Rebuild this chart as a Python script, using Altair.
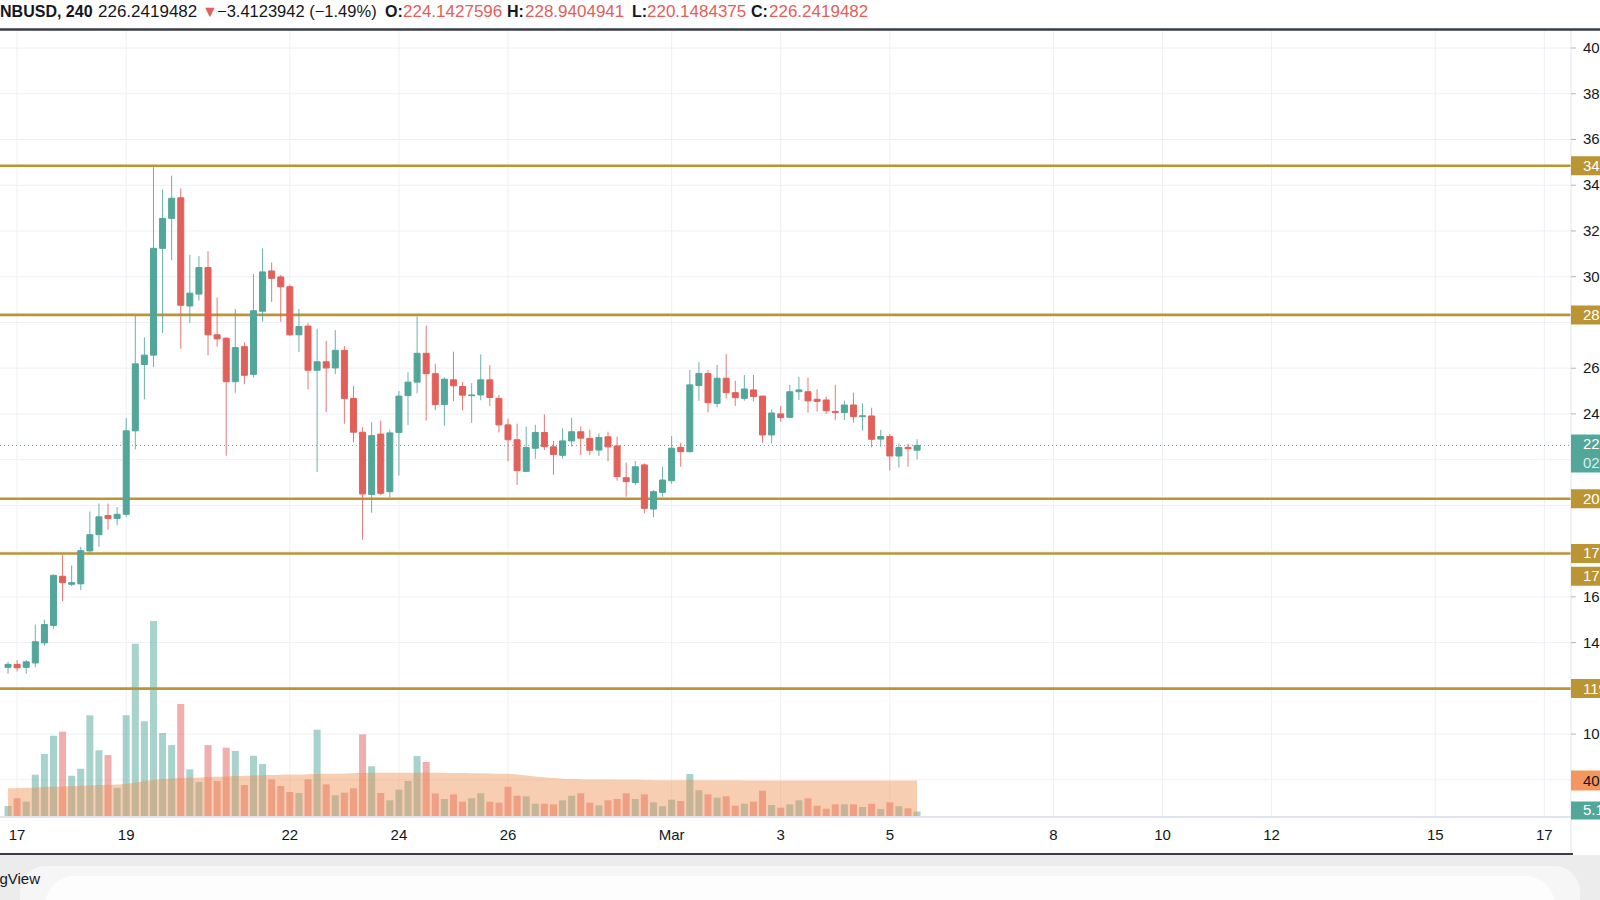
import altair as alt
import pandas as pd

# ---------------- data ----------------
first_bar = "2021-02-16 20:00"   # 4h candles, BNBUSD
opens = [129.2, 130.5, 129.2, 131.1, 139.9, 147.5, 169.0, 165.5, 165.7, 180.1,
         187.2, 195.6, 194.3, 196.1, 232.6, 261.6, 265.7, 312.4, 325.5, 334.5,
         287.2, 292.4, 304.0, 274.6, 273.1, 254.1, 269.4, 257.3, 284.9, 302.5,
         299.9, 295.6, 274.6, 278.4, 259.1, 262.8, 260.1, 267.8, 246.8, 232.0,
         204.8, 231.2, 206.0, 231.9, 248.0, 253.9, 266.5, 257.6, 244.1, 254.9,
         252.0, 248.0, 248.3, 254.9, 246.8, 235.2, 228.7, 214.9, 225.0, 231.9,
         225.6, 221.9, 228.2, 232.2, 229.3, 224.2, 230.0, 226.0, 212.1, 210.0,
         217.7, 198.4, 205.7, 210.8, 225.4, 223.5, 252.4, 257.7, 244.6, 255.6,
         249.3, 246.8, 250.5, 247.8, 230.8, 240.0, 238.5, 249.7, 249.7, 246.4,
         246.1, 241.1, 240.6, 243.9, 238.8, 239.1, 229.0, 230.1, 221.6, 225.4,
         224.1427596]
highs = [131.6, 132.4, 132.4, 147.9, 150.1, 169.8, 178.2, 173.7, 181.9, 197.3,
         200.8, 200.8, 199.3, 238.2, 282.9, 273.5, 347.9, 338.2, 344.2, 338.6,
         309.6, 309.0, 311.1, 290.9, 273.5, 285.9, 271.3, 301.2, 312.4, 306.2,
         300.8, 296.5, 285.9, 279.7, 277.2, 272.0, 276.7, 269.7, 252.3, 234.2,
         236.4, 237.1, 233.1, 250.0, 258.2, 282.6, 278.6, 261.9, 255.9, 267.2,
         253.9, 253.4, 266.0, 261.3, 248.3, 237.9, 235.7, 234.5, 235.2, 239.8,
         228.2, 233.7, 238.3, 234.5, 233.1, 231.5, 232.2, 230.1, 218.7, 219.4,
         218.4, 206.7, 216.9, 230.4, 227.4, 259.2, 262.6, 259.2, 261.4, 266.1,
         254.5, 257.0, 257.0, 247.8, 242.0, 243.5, 252.7, 256.3, 255.9, 250.8,
         247.6, 252.7, 245.8, 249.3, 244.6, 242.7, 233.0, 231.2, 227.1, 226.9,
         228.9404941]
lows = [126.4, 127.4, 126.4, 129.2, 138.6, 146.0, 158.2, 164.7, 162.9, 179.3,
        181.9, 189.4, 191.3, 195.0, 224.5, 246.4, 260.4, 275.4, 307.2, 268.5,
        279.7, 289.6, 265.7, 269.4, 221.7, 249.2, 253.0, 255.9, 280.3, 289.0,
        280.3, 274.1, 267.0, 250.7, 214.6, 240.8, 257.4, 235.7, 227.5, 185.0,
        196.8, 204.5, 203.5, 213.0, 235.2, 249.0, 237.1, 241.6, 234.9, 245.6,
        241.6, 236.1, 246.0, 243.4, 231.9, 219.3, 209.0, 214.6, 220.4, 224.2,
        213.4, 220.5, 225.7, 222.0, 222.0, 221.6, 219.3, 210.8, 203.8, 208.9,
        196.5, 194.8, 203.8, 209.4, 216.9, 223.1, 245.7, 240.7, 242.9, 246.8,
        243.5, 245.8, 245.4, 227.4, 227.1, 236.6, 238.1, 246.1, 240.6, 241.0,
        240.0, 237.3, 237.3, 236.2, 232.7, 225.4, 225.7, 215.2, 216.5, 216.9,
        220.1484375]
closes = [130.5, 129.0, 131.6, 140.4, 147.9, 169.4, 166.2, 166.2, 180.2, 187.2,
          195.0, 194.3, 196.1, 232.6, 261.9, 265.7, 312.4, 325.5, 334.3, 287.5,
          292.8, 304.0, 274.6, 272.8, 254.1, 269.0, 256.9, 285.1, 302.1, 299.3,
          295.6, 274.6, 278.2, 259.1, 262.8, 260.1, 267.8, 246.8, 232.0, 205.0,
          230.5, 205.3, 231.7, 247.8, 253.9, 266.5, 257.6, 244.1, 255.2, 252.3,
          248.2, 248.3, 254.9, 247.2, 235.2, 228.7, 215.2, 225.3, 231.9, 225.7,
          222.3, 228.2, 232.2, 229.4, 224.1, 229.7, 225.6, 212.6, 210.4, 216.9,
          198.7, 206.0, 211.1, 225.0, 223.5, 252.7, 257.7, 244.9, 255.6, 249.3,
          247.1, 250.9, 247.6, 230.8, 240.4, 238.4, 249.7, 250.5, 245.7, 245.5,
          241.4, 240.6, 243.9, 238.8, 239.2, 228.9, 230.1, 221.6, 225.3, 224.8,
          226.2419482]
volumes_k = [11.4, 20.2, 16.3, 47.1, 70.7, 91.5, 96.1, 45.9, 53.9, 114.8,
             74.9, 69.5, 31.9, 114.8, 196.4, 108.0, 222.3, 94.6, 80.9, 127.7,
             53.2, 38.8, 80.9, 39.9, 77.9, 74.1, 35.3, 68.7, 59.3, 41.8,
             34.2, 27.4, 26.2, 41.8, 98.4, 36.1, 23.6, 26.6, 31.6, 93.1,
             56.7, 26.2, 17.9, 30.0, 39.9, 68.4, 61.6, 25.7, 19.4, 24.7,
             16.3, 20.2, 25.9, 16.3, 15.2, 33.4, 23.1, 22.5, 14.0, 14.0,
             13.3, 17.9, 23.1, 25.9, 15.2, 12.2, 17.9, 19.4, 25.9, 19.4,
             24.7, 15.6, 11.1, 18.6, 17.1, 47.9, 29.3, 24.7, 20.9, 22.5,
             11.7, 14.0, 16.3, 28.8, 12.5, 9.5, 13.3, 17.9, 20.2, 11.7,
             8.3, 13.3, 13.3, 13.3, 10.3, 14.0, 8.0, 15.6, 11.1, 8.8,
             5.137]
vol_ma_k = [31.6, 31.9, 32.3, 32.6, 33.1, 33.4, 33.7, 34.2, 34.5, 34.9,
            35.3, 35.7, 36.0, 36.8, 38.2, 39.9, 41.0, 42.2, 42.9, 43.3,
            43.7, 44.0, 44.5, 44.8, 45.1, 45.5, 45.8, 46.2, 46.5, 46.7,
            47.0, 47.2, 47.4, 47.7, 47.9, 48.1, 48.3, 48.6, 48.8, 49.0,
            49.1, 49.2, 49.4, 49.4, 49.4, 49.4, 49.4, 49.2, 49.1, 49.0,
            48.9, 48.8, 48.7, 48.6, 48.3, 48.1, 47.3, 46.2, 45.1, 44.2,
            43.3, 42.6, 42.2, 42.0, 41.7, 41.6, 41.5, 41.4, 41.3, 41.2,
            41.0, 40.9, 40.9, 40.8, 40.8, 40.7, 40.7, 40.7, 40.7, 40.7,
            40.7, 40.6, 40.6, 40.6, 40.6, 40.6, 40.6, 40.6, 40.6, 40.5,
            40.5, 40.5, 40.5, 40.5, 40.5, 40.4, 40.4, 40.4, 40.4, 40.4,
            40.4]
levels = [348.5, 283.3, 202.9, 179.0, 119.9]
stacked_level = 178.6          # second label stacked under the 17x one
last_price = 226.2419482
countdown = "02:13:52"
tick_dates = ["2021-02-17", "2021-02-19", "2021-02-22", "2021-02-24", "2021-02-26",
              "2021-03-01", "2021-03-03", "2021-03-05", "2021-03-08", "2021-03-10",
              "2021-03-12", "2021-03-15", "2021-03-17"]
tick_labels = ["17", "19", "22", "24", "26", "Mar", "3", "5", "8", "10", "12", "15", "17"]
price_ticks = list(range(100, 401, 20))
grid_ticks = list(range(80, 401, 20))

# ---------------- layout constants ----------------
W, H = 1600, 900
PLOT_RIGHT = 1571
PLOT_TOP = 30
PLOT_BOTTOM = 816
X0_PX = 12.2                  # pixel of 17 Feb 00:00
PX_PER_HOUR = 54.886 / 24
P_REF, P_REF_PX, PX_PER_PRICE = 400.0, 48.0, 2.287
VOL_BASE_PX, PX_PER_K = 816.0, 0.877
UP, DOWN = "#52a69a", "#e2605a"
GOLD = "#bb9434"
INK = "#131722"
FONT = "Liberation Sans"
LP_BOX_OFF, LP_BOX_H = 8, 38

ref = pd.Timestamp("2021-02-17")
times = pd.date_range(first_bar, periods=len(opens), freq="4h")
hours = (times - ref) / pd.Timedelta(hours=1)

bars = pd.DataFrame({"h": hours, "o": opens, "hi": highs, "l": lows, "c": closes,
                     "v": volumes_k, "ma": vol_ma_k})
bars["dir"] = ["up" if c >= o else "down" for o, c in zip(opens, closes)]
bars["z"] = 0.0
last = bars.tail(1).copy()
last["ma_lab"] = [f"{m:.3f}K" for m in last["ma"]]
last["v_lab"] = [f"{v:.3f}K" for v in last["v"]]


# price-axis labels that sit behind a label box are left out (the boxes cover them)
def hidden(p):
    dy = lambda a, b: abs(a - b) * PX_PER_PRICE
    if any(dy(p, lv) < 17 for lv in levels):
        return True
    lp_center = last_price - LP_BOX_OFF / PX_PER_PRICE
    return dy(p, lp_center) < LP_BOX_H / 2 + 8


visible_ticks = [p for p in price_ticks if not hidden(p)]

ticks_df = pd.DataFrame({"h": (pd.to_datetime(tick_dates) - ref) / pd.Timedelta(hours=1),
                         "lab": tick_labels})
pt_df = pd.DataFrame({"p": visible_ticks, "lab": [f"{p:.7f}" for p in visible_ticks]})
ptick_df = pd.DataFrame({"p": price_ticks})
grid_df = pd.DataFrame({"p": grid_ticks})
lv_df = pd.DataFrame({"p": levels, "lab": [f"{p:.7f}" for p in levels]})
lv2_df = pd.DataFrame({"p": [stacked_level], "lab": [f"{stacked_level:.7f}"]})
lp_df = pd.DataFrame({"p": [last_price], "lab": [f"{last_price:.7f}"], "cd": [countdown]})
one = pd.DataFrame({"a": [0]})

x_dom = [-X0_PX / PX_PER_HOUR, (W - X0_PX) / PX_PER_HOUR]
p_dom = [P_REF - (H - P_REF_PX) / PX_PER_PRICE, P_REF + P_REF_PX / PX_PER_PRICE]
v_dom = [-(H - VOL_BASE_PX) / PX_PER_K, VOL_BASE_PX / PX_PER_K]
xs = alt.Scale(domain=x_dom, nice=False, zero=False)
ps = alt.Scale(domain=p_dom, nice=False, zero=False)
vs = alt.Scale(domain=v_dom, nice=False, zero=False)
cs = alt.Scale(domain=["up", "down"], range=[UP, DOWN])

X = lambda f: alt.X(f, scale=xs, axis=None)
P = lambda f: alt.Y(f, scale=ps, axis=None)
V = lambda f: alt.Y(f, scale=vs, axis=None)
COL = alt.Color("dir:N", scale=cs, legend=None)

layers = []

# grid
layers.append(alt.Chart(ticks_df).mark_rule(color="#eef0f5", strokeWidth=1).encode(
    x=X("h:Q"), y=alt.value(PLOT_TOP), y2=alt.value(PLOT_BOTTOM)))
layers.append(alt.Chart(grid_df).mark_rule(color="#eef0f5", strokeWidth=1).encode(
    y=P("p:Q"), x=alt.value(0), x2=alt.value(PLOT_RIGHT)))

# volume
layers.append(alt.Chart(bars).mark_bar(width=7, opacity=0.5).encode(
    x=X("h:Q"), y=V("v:Q"), y2="z:Q", color=COL))
layers.append(alt.Chart(bars).mark_area(color="#ef8a4a", opacity=0.42, interpolate="monotone").encode(
    x=X("h:Q"), y=V("ma:Q"), y2="z:Q"))

# horizontal levels
layers.append(alt.Chart(lv_df).mark_rule(color=GOLD, strokeWidth=2.6).encode(
    y=P("p:Q"), x=alt.value(0), x2=alt.value(PLOT_RIGHT)))

# last price dotted line
layers.append(alt.Chart(lp_df).mark_rule(color=UP, strokeWidth=1, strokeDash=[1, 3]).encode(
    y=P("p:Q"), x=alt.value(0), x2=alt.value(PLOT_RIGHT)))

# candles
layers.append(alt.Chart(bars).mark_rule(strokeWidth=1, opacity=0.85).encode(
    x=X("h:Q"), y=P("l:Q"), y2="hi:Q", color=COL))
layers.append(alt.Chart(bars).mark_bar(width=6, strokeWidth=1).encode(
    x=X("h:Q"), y=P("o:Q"), y2="c:Q", color=COL, stroke=alt.Stroke("dir:N", scale=cs, legend=None)))

# axes frame
layers.append(alt.Chart(one).mark_rule(color="#e0e3eb", strokeWidth=2).encode(
    x=alt.value(0), x2=alt.value(PLOT_RIGHT), y=alt.value(PLOT_BOTTOM + 1)))
layers.append(alt.Chart(one).mark_rule(color="#e0e3eb", strokeWidth=1).encode(
    x=alt.value(PLOT_RIGHT), y=alt.value(PLOT_TOP), y2=alt.value(854)))

# price axis
layers.append(alt.Chart(ptick_df).mark_rule(color="#b2b5be", strokeWidth=1).encode(
    y=P("p:Q"), x=alt.value(PLOT_RIGHT), x2=alt.value(PLOT_RIGHT + 5)))
layers.append(alt.Chart(pt_df).mark_text(align="left", baseline="middle", fontSize=15, font=FONT, color=INK).encode(
    y=P("p:Q"), x=alt.value(1583), text="lab:N"))

# level label boxes
for df, off in ((lv_df, 0), (lv2_df, 22)):
    layers.append(alt.Chart(df).mark_tick(orient="horizontal", thickness=19, size=44, color=GOLD, opacity=1, yOffset=off).encode(
        y=P("p:Q"), x=alt.value(1593)))
    layers.append(alt.Chart(df).mark_text(align="left", baseline="middle", fontSize=15, font=FONT, color="white", yOffset=off).encode(
        y=P("p:Q"), x=alt.value(1583), text="lab:N"))

# last price box
layers.append(alt.Chart(lp_df).mark_tick(orient="horizontal", thickness=LP_BOX_H, size=44, color=UP, opacity=1, yOffset=LP_BOX_OFF).encode(
    y=P("p:Q"), x=alt.value(1593)))
layers.append(alt.Chart(lp_df).mark_text(align="left", baseline="middle", fontSize=15, font=FONT, color="white", yOffset=-1).encode(
    y=P("p:Q"), x=alt.value(1583), text="lab:N"))
layers.append(alt.Chart(lp_df).mark_text(align="left", baseline="middle", fontSize=15, font=FONT, color="#d8efec", yOffset=18).encode(
    y=P("p:Q"), x=alt.value(1583), text="cd:N"))

# volume labels
layers.append(alt.Chart(last).mark_tick(orient="horizontal", thickness=20, size=44, color="#f4975f", opacity=1).encode(
    y=V("ma:Q"), x=alt.value(1593)))
layers.append(alt.Chart(last).mark_text(align="left", baseline="middle", fontSize=15, font=FONT, color=INK).encode(
    y=V("ma:Q"), x=alt.value(1583), text="ma_lab:N"))
layers.append(alt.Chart(last).mark_tick(orient="horizontal", thickness=18, size=44, color=UP, opacity=1, yOffset=-1).encode(
    y=V("v:Q"), x=alt.value(1593)))
layers.append(alt.Chart(last).mark_text(align="left", baseline="middle", fontSize=15, font=FONT, color="white", yOffset=-1).encode(
    y=V("v:Q"), x=alt.value(1583), text="v_lab:N"))

# date labels
layers.append(alt.Chart(ticks_df).mark_text(align="center", baseline="middle", fontSize=15, font=FONT, color=INK).encode(
    x=X("h:Q"), y=alt.value(835), text="lab:N"))

# bottom band
layers.append(alt.Chart(one).mark_rect(color="#ececec").encode(
    x=alt.value(0), x2=alt.value(W), y=alt.value(855), y2=alt.value(H)))
layers.append(alt.Chart(one).mark_rect(color="white", opacity=0.5, cornerRadius=26).encode(
    x=alt.value(20), x2=alt.value(W - 20), y=alt.value(866), y2=alt.value(H + 40)))
layers.append(alt.Chart(one).mark_rect(color="white", opacity=0.75, cornerRadius=30).encode(
    x=alt.value(45), x2=alt.value(W - 45), y=alt.value(876), y2=alt.value(H + 40)))
layers.append(alt.Chart(one).mark_rule(color="#3c3f4a", strokeWidth=2).encode(
    x=alt.value(0), x2=alt.value(PLOT_RIGHT + 2), y=alt.value(854)))
layers.append(alt.Chart(one).mark_text(align="left", baseline="middle", fontSize=15, font=FONT, color=INK).encode(
    x=alt.value(-42.5), y=alt.value(879), text=alt.value("TradingView")))

# header
layers.append(alt.Chart(one).mark_rule(color="#3a3d48", strokeWidth=2.5).encode(
    x=alt.value(0), x2=alt.value(W), y=alt.value(29.5)))
header = [
    ("BNBUSD, 240", -11.5, INK, "bold", 16),
    (f"{last_price:.7f}", 98, INK, "normal", 17),
    ("▼", 202, DOWN, "normal", 16),
    ("−3.4123942 (−1.49%)", 217, INK, "normal", 16.5),
    ("O:", 385, INK, "bold", 16),
    (f"{opens[-1]:.7f}", 403, DOWN, "normal", 17),
    ("H:", 507, INK, "bold", 16),
    (f"{highs[-1]:.7f}", 525, DOWN, "normal", 17),
    ("L:", 632, INK, "bold", 16),
    (f"{lows[-1]:.7f}", 647, DOWN, "normal", 17),
    ("C:", 751, INK, "bold", 16),
    (f"{closes[-1]:.7f}", 769, DOWN, "normal", 17),
]
for txt, xp, colr, wt, fs in header:
    layers.append(alt.Chart(one).mark_text(align="left", baseline="alphabetic", fontSize=fs, font=FONT,
                                           color=colr, fontWeight=wt).encode(
        x=alt.value(xp), y=alt.value(17), text=alt.value(txt)))

chart = alt.layer(*layers).properties(
    width=W, height=H, padding=0, background="white",
    autosize=alt.AutoSizeParams(type="none")
).resolve_scale(y="independent").configure_view(stroke=None)

chart.save("out.html", embed_options={"renderer": "svg", "actions": False})
